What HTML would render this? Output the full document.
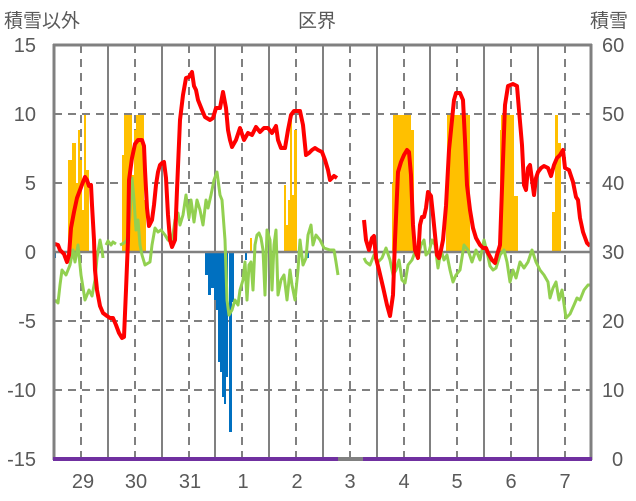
<!DOCTYPE html>
<html><head><meta charset="utf-8"><style>
html,body{margin:0;padding:0;background:#fff;}
svg{display:block;font-family:"Liberation Sans","Noto Sans CJK JP",sans-serif;}
</style></head><body>
<svg width="636" height="501" viewBox="0 0 636 501" xmlns="http://www.w3.org/2000/svg">
<rect width="636" height="501" fill="#fff"/>
<!-- horizontal grid -->
<g stroke="#bfbfbf" stroke-width="2" stroke-dasharray="8,6">
<line x1="54" y1="114" x2="591" y2="114" stroke="#808080"/>
<line x1="54" y1="183" x2="591" y2="183" stroke="#808080"/>
<line x1="54" y1="321" x2="591" y2="321" stroke="#808080"/>
<line x1="54" y1="390" x2="591" y2="390" stroke="#808080"/>
</g>
<!-- vertical grid -->
<g stroke="#808080" stroke-width="2">
<line x1="108" y1="45" x2="108" y2="459"/><line x1="162" y1="45" x2="162" y2="459"/>
<line x1="215" y1="45" x2="215" y2="459"/><line x1="269" y1="45" x2="269" y2="459"/>
<line x1="323" y1="45" x2="323" y2="459"/><line x1="377" y1="45" x2="377" y2="459"/>
<line x1="430" y1="45" x2="430" y2="459"/><line x1="484" y1="45" x2="484" y2="459"/>
<line x1="538" y1="45" x2="538" y2="459"/>
</g>
<g stroke="#808080" stroke-width="2" stroke-dasharray="8,6">
<line x1="81" y1="45" x2="81" y2="459"/><line x1="135" y1="45" x2="135" y2="459"/>
<line x1="189" y1="45" x2="189" y2="459"/><line x1="242" y1="45" x2="242" y2="459"/>
<line x1="296" y1="45" x2="296" y2="459"/><line x1="350" y1="45" x2="350" y2="459"/>
<line x1="404" y1="45" x2="404" y2="459"/><line x1="457" y1="45" x2="457" y2="459"/>
<line x1="511" y1="45" x2="511" y2="459"/><line x1="565" y1="45" x2="565" y2="459"/>
</g>
<!-- orange bars -->
<g fill="#ffc000">
<rect x="68" y="160" width="4" height="92"/><rect x="72" y="143" width="4" height="109"/>
<rect x="76" y="183" width="2" height="69"/><rect x="78" y="130" width="2" height="122"/>
<rect x="80" y="160" width="2" height="92"/><rect x="82" y="210" width="2" height="42"/>
<rect x="84" y="115" width="2" height="137"/><rect x="86" y="170" width="3" height="82"/>
<rect x="122" y="155" width="2" height="97"/><rect x="124" y="115" width="8" height="137"/>
<rect x="132" y="175" width="2" height="77"/><rect x="134" y="130" width="2" height="122"/>
<rect x="136" y="115" width="8" height="137"/><rect x="144" y="200" width="2" height="52"/>
<rect x="250" y="238" width="2" height="14"/>
<rect x="284" y="185" width="2" height="67"/><rect x="286" y="225" width="2" height="27"/>
<rect x="288" y="200" width="2" height="52"/><rect x="290" y="115" width="2" height="137"/>
<rect x="292" y="195" width="2" height="57"/><rect x="294" y="130" width="3" height="122"/>
<rect x="392" y="183" width="2" height="69"/><rect x="393" y="115" width="18" height="137"/>
<rect x="411" y="130" width="3" height="122"/>
<rect x="446" y="183" width="2" height="69"/><rect x="447" y="115" width="23" height="137"/>
<rect x="500" y="130" width="2" height="122"/><rect x="501" y="115" width="13" height="137"/>
<rect x="514" y="196" width="4" height="56"/>
<rect x="552" y="212" width="4" height="40"/><rect x="555" y="115" width="3" height="137"/>
<rect x="558" y="143" width="3" height="109"/>
</g>
<!-- blue bars -->
<g fill="#0070c0">
<rect x="54" y="252" width="2" height="6"/>
<rect x="205" y="252" width="3" height="23"/><rect x="208" y="252" width="3" height="43"/>
<rect x="211" y="252" width="3" height="36"/><rect x="214" y="252" width="2" height="48"/>
<rect x="216" y="252" width="3" height="58"/><rect x="218" y="252" width="2" height="110"/>
<rect x="220" y="252" width="2" height="120"/><rect x="222" y="252" width="2" height="145"/>
<rect x="224" y="252" width="2" height="152"/><rect x="226" y="252" width="2" height="125"/>
<rect x="229" y="252" width="3" height="180"/><rect x="232" y="252" width="2" height="50"/>
<rect x="245" y="252" width="2" height="8"/><rect x="276" y="252" width="2" height="6"/>
<rect x="306" y="252" width="3" height="6"/>
</g>
<!-- zero line -->
<line x1="54" y1="252" x2="591" y2="252" stroke="#808080" stroke-width="2.5"/>
<!-- green -->
<g fill="none" stroke="#92d050" stroke-width="3" stroke-linejoin="round">
<polyline points="55,300 58,303 60,285 62,270 66,275 70,265 73,250 75,262 78,245 81,275 85,300 89,290 92,296 95,280 97,258 100,240 102,250 103,258"/>
<polyline points="106,245 108,241 111,245 113,242 116,244"/>
<polyline points="120,245 124,243 127,240 130,215 132,178 134,200 136,230 138,220 140,245 142,255 145,265 150,262 152,245 155,228 158,232 161,230 165,235 168,240 172,242 175,220 178,213 180,225 183,215 186,195 189,218 191,200 194,222 197,200 200,210 203,225 206,200 208,208 211,195 214,180 217,172 220,195 222,200 225,240 227,300 229,315 232,310 235,300 238,305 240,290 243,280 245,262 247,300 249,265 251,262 253,290 255,245 257,235 259,233 261,238 263,250 265,295 267,230 270,240 272,290 274,245 276,230 278,295 281,280 284,275 287,300 290,270 292,285 295,300 298,270 300,240 303,265 306,258 308,235 311,225 313,245 316,235 320,240 324,248 330,250 334,250 336,262 338,275"/>
<polyline points="364,258 366,262 370,265 374,255 378,262 382,258 386,248 390,260 393,275 396,270 399,260 402,280 405,283 408,265 412,260 415,252 418,258 421,245 424,240 426,255 429,252 432,240 435,245 438,268 441,250 444,260 447,255 450,270 453,282 456,275 460,270 464,245 468,250 472,262 476,250 480,260 484,240 487,252 490,266 493,270 496,268 500,255 504,250 507,262 510,282 513,270 516,278 520,262 524,268 528,262 532,250 536,262 540,270 544,275 548,282 550,298 553,288 556,282 559,300 562,290 566,318 570,314 574,305 577,298 580,300 584,290 588,285 591,285"/>
</g>
<!-- red -->
<g fill="none" stroke="#ff0000" stroke-width="4" stroke-linejoin="round">
<polyline points="55,244 58,245 60,250 64,254 67,262 69,255 71,228 74,212 77,198 80,190 83,182 85,177 87,180 89,186 91,185 92,205 94,240 95,270 97,290 100,306 103,313 107,316 110,318 113,318 116,325 119,333 122,338 124,337 126,290 128,240 129,180 132,158 135,144 138,140 142,140 144,146 145,170 147,208 149,226 152,220 154,205 156,185 158,172 160,165 162,163 164,162 166,178 168,215 170,240 172,247 175,240 177,190 180,120 183,95 186,78 189,77 192,72 194,86 196,90 198,100 200,105 202,110 205,117 210,120 213,118 216,108 220,108 223,92 226,108 228,130 230,140 232,147 236,140 240,128 244,140 248,133 252,135 256,127 260,132 264,128 268,128 272,133 276,126 278,140 281,148 285,148 288,130 291,115 294,111 300,111 303,125 306,155 309,153 312,150 315,148 318,150 322,152 325,160 328,170 330,180 334,176 337,178"/>
<polyline points="364,220 366,240 369,250 372,238 374,236 376,258 379,270 383,287 387,305 390,316 393,295 395,240 398,172 401,162 404,155 407,150 409,152 411,175 413,225 415,250 418,258 420,225 422,217 424,217 426,208 428,192 431,196 433,215 435,235 437,255 439,258 441,250 443,240 446,206 449,150 451,130 454,100 456,93 460,93 463,100 465,140 467,185 470,210 473,228 476,238 480,245 483,248 486,248 488,253 492,260 495,263 497,255 500,245 503,160 505,105 508,86 513,84 517,86 519,110 522,145 524,185 526,190 528,168 530,165 532,180 534,195 536,178 538,172 541,168 544,166 548,168 551,176 554,165 557,158 560,155 563,150 565,168 569,170 573,182 576,197 578,200 580,218 583,232 587,243 590,246"/>
</g>
<!-- frame -->
<line x1="54" y1="44" x2="54" y2="460" stroke="#808080" stroke-width="3"/>
<line x1="591" y1="44" x2="591" y2="460" stroke="#808080" stroke-width="3"/>
<line x1="53" y1="45" x2="592" y2="45" stroke="#808080" stroke-width="3"/>
<line x1="53" y1="459" x2="338" y2="459" stroke="#7030a0" stroke-width="4"/>
<line x1="338" y1="459" x2="363" y2="459" stroke="#808080" stroke-width="4"/>
<line x1="363" y1="459" x2="592" y2="459" stroke="#7030a0" stroke-width="4"/>
<!-- labels -->
<g fill="#595959" font-size="20" text-anchor="end">
<text x="36" y="52">15</text><text x="36" y="121">10</text><text x="36" y="190">5</text>
<text x="36" y="259">0</text><text x="36" y="328">-5</text><text x="36" y="397">-10</text>
<text x="36" y="466">-15</text>
</g>
<g fill="#595959" font-size="20" text-anchor="start">
<text x="602" y="52">60</text><text x="602" y="121">50</text><text x="602" y="190">40</text>
<text x="602" y="259">30</text><text x="602" y="328">20</text><text x="602" y="397">10</text>
<text x="612" y="466">0</text>
</g>
<g fill="#595959" font-size="20" text-anchor="middle">
<text x="83" y="488">29</text><text x="136" y="488">30</text><text x="190" y="488">31</text>
<text x="243" y="488">1</text><text x="297" y="488">2</text><text x="350" y="488">3</text>
<text x="404" y="488">4</text><text x="457" y="488">5</text><text x="511" y="488">6</text>
<text x="565" y="488">7</text>
</g>
<g fill="#595959" font-size="19">
<text x="4" y="27">積雪以外</text>
<text x="298" y="27">区界</text>
<text x="590" y="27">積雪</text>
</g>
</svg>
</body></html>
